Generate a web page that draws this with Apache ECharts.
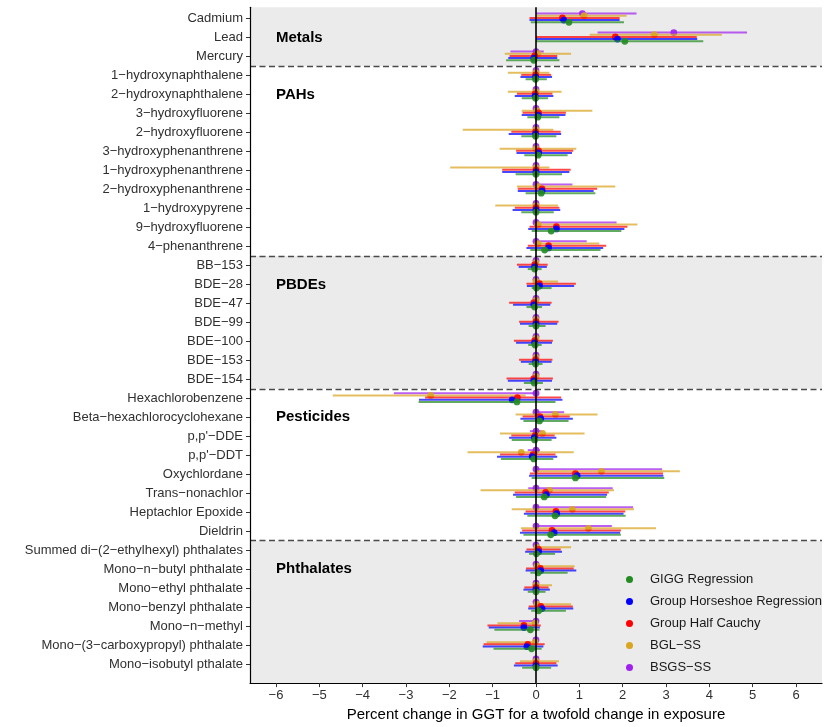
<!DOCTYPE html>
<html lang="en">
<head>
<meta charset="UTF-8">
<title>Percent change in GGT</title>
<script src="https://cdn.jsdelivr.net/npm/echarts@6/dist/echarts.min.js"></script>
<style>
  body { margin: 0; background: #fff; }
  #chart { width: 830px; height: 727px; }
</style>
</head>
<body>
<div id="chart"></div>
<script>
// exposures, top to bottom
const exposures = [
  'Cadmium', 'Lead', 'Mercury',
  '1−hydroxynaphthalene', '2−hydroxynaphthalene', '3−hydroxyfluorene', '2−hydroxyfluorene',
  '3−hydroxyphenanthrene', '1−hydroxyphenanthrene', '2−hydroxyphenanthrene', '1−hydroxypyrene',
  '9−hydroxyfluorene', '4−phenanthrene',
  'BB−153', 'BDE−28', 'BDE−47', 'BDE−99', 'BDE−100', 'BDE−153', 'BDE−154',
  'Hexachlorobenzene', 'Beta−hexachlorocyclohexane', 'p,p\'−DDE', 'p,p\'−DDT', 'Oxychlordane',
  'Trans−nonachlor', 'Heptachlor Epoxide', 'Dieldrin',
  'Summed di−(2−ethylhexyl) phthalates', 'Mono−n−butyl phthalate', 'Mono−ethyl phthalate',
  'Mono−benzyl phthalate', 'Mono−n−methyl', 'Mono−(3−carboxypropyl) phthalate', 'Mono−isobutyl pthalate'
];
const groupNames = ['Metals', 'PAHs', 'PBDEs', 'Pesticides', 'Phthalates'];
const groupSizes = [3, 10, 7, 8, 7];
const groupLabelRows = [1, 4, 14, 21, 29];
const xTicks = [-6, -5, -4, -3, -2, -1, 0, 1, 2, 3, 4, 5, 6];

// [estimate, lower, upper] per exposure
const gigg = [
  [0.76, -0.12, 2.03], [2.05, 0.00, 3.86], [-0.05, -0.69, 0.54],
  [-0.01, -0.24, 0.25], [-0.01, -0.33, 0.28], [0.04, -0.20, 0.54], [-0.01, -0.34, 0.47],
  [0.05, -0.27, 0.73], [0.00, -0.47, 0.60], [0.12, -0.24, 1.37], [0.00, -0.34, 0.41],
  [0.35, -0.10, 1.97], [0.20, -0.13, 1.49],
  [-0.03, -0.19, 0.13], [0.01, -0.10, 0.36], [-0.03, -0.22, 0.14], [0.00, -0.17, 0.22],
  [-0.02, -0.18, 0.13], [-0.01, -0.17, 0.15], [-0.04, -0.28, 0.16],
  [-0.44, -2.71, 0.45], [0.08, -0.29, 0.75], [-0.03, -0.56, 0.36], [-0.05, -0.81, 0.40],
  [0.91, -0.10, 2.96], [0.19, -0.46, 1.62], [0.44, -0.20, 2.07], [0.34, -0.29, 1.96],
  [0.01, -0.16, 0.44], [0.05, -0.13, 0.73], [0.00, -0.19, 0.22], [0.06, -0.11, 0.69],
  [-0.13, -0.96, 0.08], [-0.10, -0.98, 0.13], [0.00, -0.32, 0.35]
];
const horseshoe = [
  [0.64, -0.15, 1.93], [1.88, 0.00, 3.72], [-0.05, -0.64, 0.49],
  [-0.01, -0.36, 0.37], [-0.02, -0.49, 0.40], [0.05, -0.33, 0.68], [-0.01, -0.63, 0.58],
  [0.06, -0.45, 0.83], [0.00, -0.78, 0.77], [0.14, -0.42, 1.33], [0.00, -0.54, 0.56],
  [0.47, -0.18, 2.04], [0.29, -0.22, 1.55],
  [-0.03, -0.40, 0.25], [0.08, -0.21, 0.88], [-0.05, -0.53, 0.33], [0.00, -0.37, 0.49],
  [-0.03, -0.46, 0.37], [-0.01, -0.35, 0.36], [-0.05, -0.65, 0.37],
  [-0.55, -2.70, 0.61], [0.11, -0.36, 0.85], [-0.04, -0.62, 0.47], [-0.09, -0.90, 0.49],
  [0.95, -0.16, 2.94], [0.24, -0.53, 1.64], [0.48, -0.28, 2.02], [0.42, -0.37, 1.94],
  [0.06, -0.25, 0.60], [0.11, -0.24, 0.93], [0.00, -0.29, 0.32], [0.14, -0.18, 0.86],
  [-0.28, -1.09, 0.09], [-0.21, -1.23, 0.17], [0.00, -0.51, 0.50]
];
const halfCauchy = [
  [0.61, -0.15, 1.93], [1.83, 0.00, 3.71], [-0.03, -0.61, 0.49],
  [-0.01, -0.34, 0.35], [-0.02, -0.44, 0.38], [0.06, -0.31, 0.69], [-0.01, -0.57, 0.57],
  [0.06, -0.46, 0.86], [0.00, -0.78, 0.80], [0.14, -0.42, 1.41], [0.00, -0.49, 0.54],
  [0.47, -0.15, 2.11], [0.29, -0.19, 1.62],
  [-0.03, -0.44, 0.27], [0.08, -0.22, 0.92], [-0.05, -0.62, 0.36], [0.00, -0.39, 0.52],
  [-0.03, -0.51, 0.39], [-0.01, -0.39, 0.38], [-0.05, -0.68, 0.39],
  [-0.43, -2.56, 0.58], [0.09, -0.31, 0.78], [-0.02, -0.57, 0.43], [-0.07, -0.83, 0.45],
  [0.91, -0.14, 2.93], [0.22, -0.49, 1.68], [0.46, -0.24, 2.06], [0.37, -0.32, 1.96],
  [0.06, -0.22, 0.57], [0.10, -0.23, 0.87], [0.00, -0.27, 0.29], [0.11, -0.17, 0.85],
  [-0.28, -1.12, 0.11], [-0.19, -1.21, 0.20], [0.00, -0.48, 0.47]
];
const bglSS = [
  [1.11, 0.00, 2.09], [2.73, 1.24, 4.29], [0.04, -0.72, 0.81],
  [0.00, -0.65, 0.31], [0.00, -0.65, 0.59], [0.02, -0.33, 1.30], [0.00, -1.69, 0.40],
  [0.00, -0.84, 0.93], [0.00, -1.98, 0.31], [0.05, -0.44, 1.83], [0.00, -0.94, 0.51],
  [0.05, -0.04, 2.34], [0.05, -0.04, 1.46],
  [0.00, -0.05, 0.05], [0.00, -0.03, 0.51], [0.00, -0.05, 0.05], [0.00, -0.03, 0.05],
  [0.00, -0.03, 0.05], [0.00, -0.03, 0.05], [0.00, -0.05, 0.05],
  [-2.43, -4.69, -0.24], [0.45, -0.47, 1.42], [0.15, -0.83, 1.12], [-0.34, -1.58, 0.87],
  [1.51, 0.00, 3.32], [0.31, -1.28, 1.80], [0.84, -0.56, 2.26], [1.21, -0.35, 2.77],
  [0.02, -0.03, 0.81], [0.02, -0.03, 0.89], [0.00, -0.09, 0.37], [0.02, -0.03, 0.81],
  [-0.02, -0.89, 0.00], [-0.02, -1.14, 0.00], [0.00, -0.37, 0.53]
];
const bsgsSS = [
  [1.07, 0.00, 2.32], [3.18, 1.42, 4.87], [0.00, -0.59, 0.18],
  [0.00, -0.05, 0.05], [0.00, -0.05, 0.05], [0.00, -0.05, 0.05], [0.00, -0.05, 0.05],
  [0.00, -0.05, 0.05], [0.00, -0.05, 0.05], [0.00, 0.00, 0.84], [0.00, -0.05, 0.05],
  [0.00, 0.00, 1.86], [0.00, 0.00, 1.17],
  [0.00, -0.05, 0.05], [0.00, -0.05, 0.05], [0.00, -0.05, 0.05], [0.00, -0.05, 0.05],
  [0.00, -0.05, 0.05], [0.00, -0.05, 0.05], [0.00, -0.05, 0.05],
  [0.00, -3.28, 0.00], [0.00, 0.00, 0.65], [0.00, -0.14, 0.13], [0.00, -0.19, 0.09],
  [0.00, 0.00, 2.91], [0.00, -0.18, 1.77], [0.00, 0.00, 2.24], [0.00, 0.00, 1.75],
  [0.00, -0.05, 0.05], [0.00, -0.05, 0.05], [0.00, -0.05, 0.05], [0.00, -0.05, 0.05],
  [0.00, -0.39, 0.00], [0.00, -0.05, 0.05], [0.00, -0.05, 0.05]
];

// drawn in this order (BSGS first, GIGG on top); dodge is row offset
const methods = [
  { name: 'BSGS−SS', data: bsgsSS, color: '#A020F0', dodge: -0.27 },
  { name: 'BGL−SS', data: bglSS, color: '#DAA520', dodge: -0.155 },
  { name: 'Group Half Cauchy', data: halfCauchy, color: '#FF0000', dodge: -0.04 },
  { name: 'Group Horseshoe Regression', data: horseshoe, color: '#0000FF', dodge: 0.075 },
  { name: 'GIGG Regression', data: gigg, color: '#228B22', dodge: 0.19 }
];
const legendOrder = ['GIGG Regression', 'Group Horseshoe Regression', 'Group Half Cauchy', 'BGL−SS', 'BSGS−SS'];

const yMin = -0.6, yMax = 35;
const chart = echarts.init(document.getElementById('chart'));

// shaded bands + dashed separators between groups
const bands = [];
const seps = [];
let start = 0;
groupSizes.forEach((n, i) => {
  const top = i === 0 ? yMin : start - 0.5;
  const bottom = i === groupSizes.length - 1 ? yMax : start + n - 0.5;
  if (i % 2 === 0) bands.push([{ yAxis: top }, { yAxis: bottom }]);
  if (i > 0) seps.push({ yAxis: start - 0.5 });
  start += n;
});

function intervalRenderer(m) {
  return function (params, api) {
    const row = api.value(0) + m.dodge;
    const a = api.coord([api.value(2), row]);
    const b = api.coord([api.value(3), row]);
    const p = api.coord([api.value(1), row]);
    return {
      type: 'group',
      children: [
        { type: 'line', shape: { x1: a[0], y1: a[1], x2: b[0], y2: b[1] },
          style: { stroke: m.color, lineWidth: 2, opacity: 0.72 } },
        { type: 'circle', shape: { cx: p[0], cy: p[1], r: 3.4 },
          style: { fill: m.color, opacity: 0.9 } }
      ]
    };
  };
}

const series = [{
  type: 'scatter', data: [], silent: true, z: 1,
  markArea: { silent: true, itemStyle: { color: '#EBEBEB' }, data: bands },
  markLine: {
    silent: true, symbol: 'none', label: { show: false },
    lineStyle: { color: '#4a4a4a', width: 1.4, type: [6, 3.5] },
    data: seps
  }
}];

methods.forEach(m => {
  series.push({
    name: m.name,
    type: 'custom',
    z: 3,
    itemStyle: { color: m.color },
    renderItem: intervalRenderer(m),
    encode: { x: [1, 2, 3], y: 0 },
    data: m.data.map((d, i) => [i, d[0], d[1], d[2]])
  });
});

// zero reference line on top
series.push({
  type: 'scatter', data: [], silent: true, z: 5,
  markLine: {
    silent: true, symbol: 'none', label: { show: false },
    lineStyle: { color: '#000', width: 1.6, type: 'solid' },
    data: [{ xAxis: 0 }]
  }
});

// group labels
series.push({
  type: 'custom', silent: true, z: 6,
  renderItem: function (params, api) {
    const p = api.coord([-6.0, api.value(0)]);
    return {
      type: 'text', x: p[0], y: p[1],
      style: { text: groupNames[params.dataIndex], font: 'bold 15px "Liberation Sans", Arial, sans-serif',
        fill: '#000', align: 'left', verticalAlign: 'middle' }
    };
  },
  encode: { y: 0 },
  data: groupLabelRows.map(r => [r])
});

chart.setOption({
  animation: false,
  textStyle: { fontFamily: '"Liberation Sans", Arial, sans-serif' },
  grid: { left: 250, right: 8, top: 7.3, bottom: 40.3 },
  legend: {
    data: legendOrder,
    orient: 'vertical', left: 621, top: 568,
    icon: 'circle', itemWidth: 7, itemHeight: 7, itemGap: 9,
    selectedMode: false,
    textStyle: { fontSize: 13, color: '#1a1a1a', padding: [0, 0, 0, 12] }
  },
  xAxis: {
    type: 'value', min: -6.6, max: 6.6, z: 10,
    name: 'Percent change in GGT for a twofold change in exposure',
    nameLocation: 'middle', nameGap: 18,
    nameTextStyle: { fontSize: 15, color: '#000' },
    axisLine: { show: true, onZero: false, lineStyle: { color: '#000', width: 1.2 } },
    axisTick: { show: true, length: 4, customValues: xTicks, lineStyle: { color: '#333' } },
    axisLabel: { customValues: xTicks, fontSize: 13, color: '#303030', margin: 6,
      formatter: v => (v < 0 ? '−' + Math.abs(v) : String(v)) },
    splitLine: { show: false }
  },
  yAxis: {
    type: 'value', inverse: true, min: yMin, max: yMax, z: 10,
    axisLine: { show: true, onZero: false, lineStyle: { color: '#000', width: 1.2 } },
    axisTick: { show: true, length: 4, customValues: exposures.map((e, i) => i), lineStyle: { color: '#333' } },
    axisLabel: { customValues: exposures.map((e, i) => i), fontSize: 13, color: '#303030', margin: 7,
      formatter: v => exposures[v] },
    splitLine: { show: false }
  },
  series: series
});
</script>
</body>
</html>
